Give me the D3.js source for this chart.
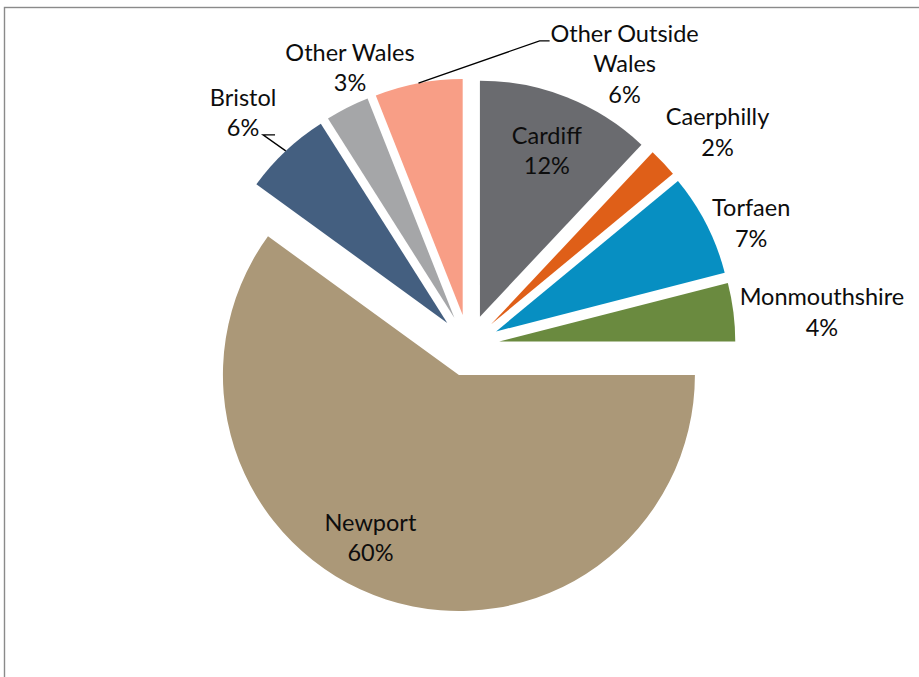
<!DOCTYPE html>
<html>
  <head>
    <meta charset="UTF-8">
    <title>Exploded pie</title>
    <style>
    body {
      margin: 0;
      background: #fff;
    }
    svg {
      display: block;
    }
    .label text {
      font: 23.5px "Lato", sans-serif;
      fill: #0d0d0d;
    }
    .leader {
      fill: none;
      stroke: #000;
      stroke-width: 1.3px;
    }
    </style>
  </head>
  <body>
    <svg width="919" height="677"></svg>
    <script src="https://cdn.jsdelivr.net/npm/d3@7"></script>
    <script>
// data, clockwise from 12 o'clock
var categories = ["Cardiff", "Caerphilly", "Torfaen", "Monmouthshire", "Newport", "Bristol", "Other Wales", "Other Outside Wales"];
var values = [12, 2, 7, 4, 60, 6, 3, 6];
var labelLines = [["Cardiff", "12%"], ["Caerphilly", "2%"], ["Torfaen", "7%"], ["Monmouthshire", "4%"],
                  ["Newport", "60%"], ["Bristol", "6%"], ["Other Wales", "3%"], ["Other Outside", "Wales", "6%"]];
var colors = ["#6a6b6f", "#df5f18", "#078fc2", "#6a8a3f", "#ab9878", "#445f80", "#a5a6a8", "#f89e86"];

// label placement (angle in degrees, distance from pie centre) - excel "best fit"
var labelPolar = [[21.9, 210], [49.4, 328], [66.6, 308], [84.6, 355], [207, 216], [315.9, 324], [336.9, 302], [29, 322]];
// leader elbows for the labels that need one, relative to label centre
var leaders = {5: [[20, 22], [32, 22]], 7: [[-85, -23], [-75, -23]]};

var svg = d3.select("svg"),
    cx = 468.5,
    cy = 345.5,
    radius = 236,
    explode = 31,
    lineHeight = 30.5;

// chart frame (only top and left edges fall inside the picture)
svg.append("rect")
    .attr("x", 4.5).attr("y", 7.5)
    .attr("width", 1200).attr("height", 1200)
    .attr("fill", "none")
    .attr("stroke", "#8a8a8a")
    .attr("stroke-width", 1.4);

var pie = d3.pie().sort(null).value(d => d)(values);
var arc = d3.arc().innerRadius(0).outerRadius(radius);

function polar(angle, r) {
  return [Math.sin(angle) * r, -Math.cos(angle) * r];
}

var g = svg.append("g").attr("transform", "translate(" + cx + "," + cy + ")");

pie.forEach((d, i) => {
  var mid = (d.startAngle + d.endAngle) / 2;
  d.off = polar(mid, explode);
  d.mid = mid;
});

g.selectAll("path.slice")
  .data(pie)
  .join("path")
    .attr("class", "slice")
    .attr("d", arc)
    .attr("fill", (d, i) => colors[i])
    .attr("transform", d => "translate(" + d.off[0] + "," + d.off[1] + ")");

// labels
var labels = g.selectAll("g.label")
  .data(pie)
  .join("g")
    .attr("class", "label")
    .attr("transform", (d, i) => {
      var p = polar(labelPolar[i][0] * Math.PI / 180, labelPolar[i][1]);
      d.lx = p[0]; d.ly = p[1];
      return "translate(" + p[0] + "," + p[1] + ")";
    });

labels.each(function(d, i) {
  var lines = labelLines[i],
      top = -(lines.length - 1) * lineHeight / 2;
  d3.select(this).selectAll("text")
    .data(lines)
    .join("text")
      .attr("text-anchor", "middle")
      .attr("dy", "0.35em")
      .attr("y", (t, j) => top + j * lineHeight)
      .text(t => t);
});

// leader lines from the slice edge to the label
Object.keys(leaders).forEach(k => {
  var d = pie[+k],
      start = polar(d.mid, radius + explode),
      pts = [start].concat(leaders[k].map(p => [d.lx + p[0], d.ly + p[1]]));
  g.append("path")
    .attr("class", "leader")
    .attr("d", d3.line()(pts));
});
    </script>
  </body>
</html>
